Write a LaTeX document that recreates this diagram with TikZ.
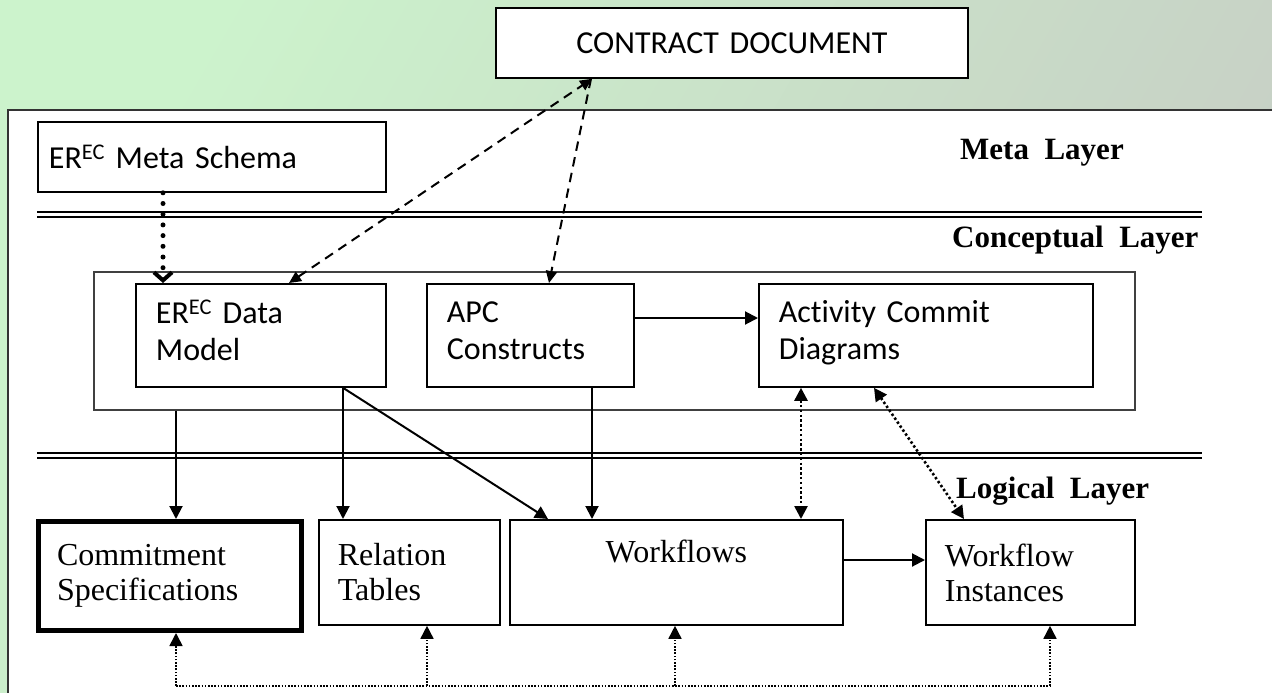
\documentclass[tikz,border=0pt]{standalone}
\usepackage{fontspec}
\setmainfont{Liberation Serif}
\newfontfamily\calfont[Ligatures={NoCommon}]{Carlito}
\usetikzlibrary{arrows.meta,calc}
\definecolor{bgA}{RGB}{204,243,204}
\definecolor{bgB}{RGB}{199,206,197}
\begin{document}
\begin{tikzpicture}[x=1pt,y=-1pt,
  box/.style={draw=black, line width=1.8pt, fill=white, rectangle, anchor=north west, inner xsep=19pt, inner ysep=0pt, align=left},
  calt/.style={font=\calfont\fontsize{32}{37}\selectfont},
  timt/.style={font=\fontsize{32}{35}\selectfont},
  lay/.style={font=\bfseries\fontsize{31}{36}\selectfont, anchor=base west, inner sep=0pt},
  tip/.tip={Triangle[length=13pt,width=13pt]},
  stip/.tip={Triangle[length=12pt,width=11pt]},
  arr/.style={line width=2pt, -tip},
  dotarr/.style={line width=2.6pt, dash pattern=on 2.4pt off 2.4pt, tip-tip},
  dasharr/.style={line width=2pt, dash pattern=on 9.5pt off 6.5pt},
  metadot/.style={line width=5pt, line cap=round, dash pattern=on 0pt off 10.7pt, -{Straight Barb[length=8pt,width=18pt,line width=4pt]}},
  botdot/.style={line width=1.6pt, dash pattern=on 1.6pt off 1.6pt},
  dline/.style={line width=2pt},
  dlinet/.style={line width=1.3pt}
]
\useasboundingbox (0,0) rectangle (1272,693);
\shade[top color=bgA, bottom color=bgB, shading angle=60] (0,0) rectangle (1272,693);
% main frame
\draw[draw=black!80, line width=1.3pt, fill=white] (8,110) rectangle (1290,710);

% contract
\node[box, calt, align=center, inner xsep=0pt, minimum width=472pt, minimum height=70pt, text width=472pt] (cd) at (495,7) {CONTRACT DOCUMENT};

% meta layer
\node[box, calt, inner xsep=11pt, minimum height=70pt, text width=326pt] (meta) at (37,121) {ER\textsuperscript{EC} Meta Schema};
\node[lay] (lmeta) at (960,159) {Meta\ \ Layer};

% double lines
\draw[dline] (37,212) -- (1202,212);
\draw[dlinet] (37,217) -- (1202,217);
\node[lay] (lconc) at (952,247) {Conceptual\ \ Layer};

% conceptual container
\node[draw=black!75, line width=1.5pt, fill=white, anchor=north west, minimum width=1041pt, minimum height=138pt, inner sep=0pt] (cont) at (93,271) {};
\node[box, calt, inner xsep=20pt, minimum height=103pt, text width=210pt] (dm) at (135,283) {ER\textsuperscript{EC} Data\\Model\\[-27pt]\mbox{}};
\node[box, calt, inner xsep=20pt, minimum height=103pt, text width=167pt] (apc) at (426,283) {APC\\Constructs\\[-27pt]\mbox{}};
\node[box, calt, inner xsep=20pt, minimum height=103pt, text width=294pt] (acd) at (758,283) {Activity Commit\\Diagrams\\[-27pt]\mbox{}};

% second double line
\draw[dline] (37,453) -- (1202,453);
\draw[dlinet] (37,458) -- (1202,458);
\node[lay] (llog) at (956,498) {Logical\ \ Layer};

% logical layer
\node[box, timt, line width=5pt, inner xsep=18.5pt, minimum height=109pt, text width=226pt] (cs) at (36,519) {Commitment\\Specifications};
\node[box, timt, minimum height=105pt, text width=143pt] (rt) at (318,519) {Relation\\Tables};
\node[box, timt, align=center, minimum height=105pt, text width=295pt] (wf) at (509,519) {Workflows\\\phantom{Ip}};
\node[box, timt, minimum height=105pt, text width=171pt] (wi) at (925,519) {Workflow\\Instances};

% connectors
\draw[metadot] (meta.south -| 163,0) -- (dm.north -| 163,0);
\draw[dasharr, stip-stip] (dm.north -| 289,0) -- (cd.south -| 592,0);
\draw[dasharr, -stip] (cd.south -| 591,0) -- (apc.north -| 549,0);

\draw[arr] (cont.south -| 176,0) -- (cs.north -| 176,0);
\draw[arr] (dm.south -| 343,0) -- (rt.north -| 343,0);
\draw[arr] (dm.south -| 343,0) -- (wf.north -| 548,0);
\draw[arr] (apc.south -| 592,0) -- (wf.north -| 592,0);
\draw[arr] (apc.east |- 0,318) -- (acd.west |- 0,318);
\draw[arr] (wf.east |- 0,560) -- (wi.west |- 0,560);

\draw[dotarr] (acd.south -| 801,0) -- (wf.north -| 801,0);
\draw[dotarr] (acd.south -| 874,0) -- (wi.north -| 964,0);

\coordinate (b1) at (176,686);
\coordinate (b2) at (427,686);
\coordinate (b3) at (675,686);
\coordinate (b4) at (1050,686);
\draw[botdot] (b1) -- (b4);
\draw[botdot, -tip] (b1) -- (cs.south -| b1);
\draw[botdot, -tip] (b2) -- (rt.south -| b2);
\draw[botdot, -tip] (b3) -- (wf.south -| b3);
\draw[botdot, -tip] (b4) -- (wi.south -| b4);
\end{tikzpicture}
\end{document}
